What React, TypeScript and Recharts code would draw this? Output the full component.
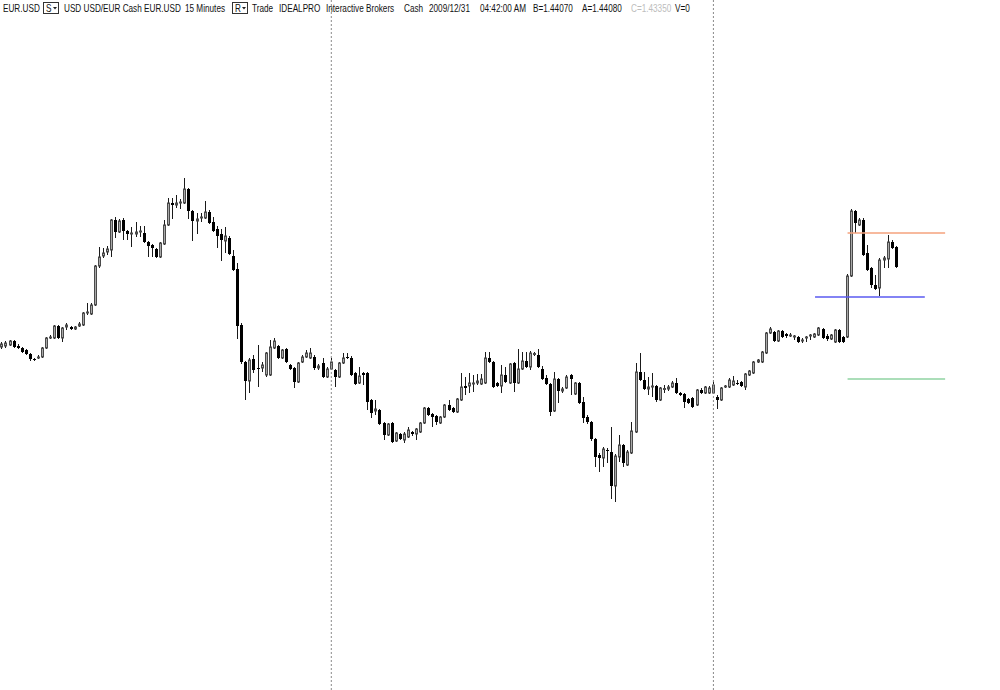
import React from "react";
import { Bar, ComposedChart, ReferenceLine, XAxis, YAxis } from "recharts";

// EUR.USD 15 minute bars
const openPrices = [
  1.4327, 1.4328, 1.4329, 1.4333, 1.4328, 1.4326, 1.4324, 1.432, 1.4315, 1.4316,
  1.4317, 1.4326, 1.4336, 1.4336, 1.4348, 1.4336, 1.4347, 1.4347, 1.4345, 1.4348,
  1.4349, 1.4361, 1.436, 1.4369, 1.4408, 1.4418, 1.4422, 1.4424, 1.4454, 1.4442,
  1.4454, 1.4443, 1.444, 1.444, 1.4442, 1.4441, 1.4432, 1.4429, 1.4425, 1.4417,
  1.443, 1.4449, 1.4471, 1.4469, 1.4471, 1.4471, 1.4485, 1.4463, 1.4453, 1.4456,
  1.4456, 1.4462, 1.4452, 1.4445, 1.444, 1.4433, 1.4436, 1.4418, 1.4405, 1.4349,
  1.4312, 1.4293, 1.4315, 1.4306, 1.4306, 1.4299, 1.4299, 1.4326, 1.4328, 1.4316,
  1.4325, 1.4309, 1.4306, 1.4292, 1.4312, 1.4317, 1.4316, 1.4317, 1.4306, 1.4311,
  1.4297, 1.4305, 1.4304, 1.4297, 1.4311, 1.4317, 1.4316, 1.4301, 1.4291, 1.4301,
  1.4301, 1.4274, 1.4263, 1.4264, 1.4251, 1.4239, 1.4251, 1.4233, 1.424, 1.4234,
  1.4237, 1.4242, 1.424, 1.4242, 1.4251, 1.4266, 1.426, 1.4258, 1.4251, 1.4257,
  1.4269, 1.4266, 1.4262, 1.4274, 1.4288, 1.4288, 1.42905, 1.4291, 1.429, 1.4291,
  1.4316, 1.4312, 1.4291, 1.4288, 1.4299, 1.4291, 1.4311, 1.4291, 1.4305, 1.4313,
  1.4307, 1.432, 1.4319, 1.4305, 1.4296, 1.429, 1.4263, 1.4295, 1.4283, 1.4286,
  1.4299, 1.428, 1.4291, 1.4272, 1.4257, 1.4252, 1.4235, 1.4219, 1.4216, 1.4224,
  1.4222, 1.4188, 1.4217, 1.4229, 1.4209, 1.4221, 1.4242, 1.4302, 1.4294, 1.4285,
  1.4287, 1.4288, 1.4274, 1.4285, 1.4285, 1.4287, 1.4291, 1.4281, 1.428, 1.4275,
  1.4276, 1.4269, 1.4284, 1.4281, 1.4281, 1.4281, 1.4277, 1.4274, 1.4287, 1.4287,
  1.4289, 1.4291, 1.4292, 1.4287, 1.4299, 1.4301, 1.4312, 1.4312, 1.4321, 1.4341,
  1.4342, 1.4333, 1.4343, 1.434, 1.4338, 1.4338, 1.4337, 1.4333, 1.4337, 1.4339,
  1.4337, 1.4339, 1.4345, 1.4338, 1.4335, 1.4332, 1.4344, 1.4337, 1.4337, 1.4398,
  1.4463, 1.4449, 1.4454, 1.4421, 1.4406, 1.4389, 1.4386, 1.4414, 1.4415, 1.4432,
  1.4427,
];

const highPrices = [
  1.4332, 1.4333, 1.4334, 1.4334, 1.433, 1.4327, 1.4325, 1.4321, 1.4316, 1.4319,
  1.4327, 1.4337, 1.4339, 1.4349, 1.4349, 1.4347, 1.4351, 1.4348, 1.4348, 1.4352,
  1.4362, 1.4371, 1.4371, 1.4409, 1.4427, 1.4426, 1.4428, 1.4455, 1.4457, 1.4455,
  1.4456, 1.4444, 1.4447, 1.4452, 1.4448, 1.4448, 1.4433, 1.443, 1.4426, 1.4432,
  1.4454, 1.4476, 1.4476, 1.4479, 1.4475, 1.4496, 1.4486, 1.4464, 1.4461, 1.4461,
  1.4473, 1.4464, 1.4457, 1.4448, 1.4445, 1.4447, 1.4438, 1.4424, 1.4411, 1.4351,
  1.4313, 1.4316, 1.4319, 1.4329, 1.4312, 1.4322, 1.4334, 1.4336, 1.4329, 1.4325,
  1.4326, 1.431, 1.4307, 1.4312, 1.4319, 1.4324, 1.4326, 1.4319, 1.431, 1.4316,
  1.4307, 1.4316, 1.4305, 1.4312, 1.4321, 1.4321, 1.4318, 1.4302, 1.4307, 1.4302,
  1.4302, 1.4275, 1.4274, 1.4265, 1.4252, 1.4251, 1.4252, 1.4242, 1.4241, 1.4242,
  1.4247, 1.4243, 1.4246, 1.4252, 1.4267, 1.4267, 1.4261, 1.4259, 1.4258, 1.427,
  1.4274, 1.4267, 1.4276, 1.4301, 1.4297, 1.4301, 1.4299, 1.43, 1.43, 1.4322,
  1.4322, 1.4313, 1.4292, 1.4309, 1.4307, 1.4311, 1.4312, 1.4325, 1.4322, 1.4322,
  1.4323, 1.4322, 1.4325, 1.4308, 1.4299, 1.4291, 1.4302, 1.4296, 1.4287, 1.4299,
  1.43, 1.4292, 1.4292, 1.4277, 1.4259, 1.4253, 1.4236, 1.4221, 1.4227, 1.4226,
  1.4247, 1.422, 1.4239, 1.423, 1.4224, 1.4252, 1.4311, 1.4321, 1.4302, 1.4297,
  1.4301, 1.4289, 1.4287, 1.4289, 1.4289, 1.4293, 1.4296, 1.4282, 1.4281, 1.4276,
  1.4277, 1.4285, 1.4286, 1.4288, 1.4288, 1.4294, 1.4279, 1.4287, 1.4289, 1.4296,
  1.4298, 1.4294, 1.4293, 1.4301, 1.4304, 1.4313, 1.4315, 1.4323, 1.4342, 1.4347,
  1.4343, 1.4344, 1.4344, 1.4341, 1.4341, 1.4339, 1.4338, 1.4336, 1.4338, 1.434,
  1.4341, 1.4347, 1.4346, 1.434, 1.434, 1.4345, 1.4345, 1.4338, 1.44, 1.4465,
  1.4464, 1.4456, 1.4456, 1.4429, 1.4407, 1.4399, 1.4416, 1.4418, 1.4439, 1.4434,
  1.4428,
];

const lowPrices = [
  1.4325, 1.4326, 1.4328, 1.4326, 1.4325, 1.4321, 1.4319, 1.4313, 1.4313, 1.4315,
  1.4316, 1.4325, 1.4335, 1.4335, 1.4335, 1.4332, 1.4344, 1.4344, 1.4344, 1.4347,
  1.4348, 1.4359, 1.4359, 1.4368, 1.4406, 1.4416, 1.4419, 1.4417, 1.4436, 1.4441,
  1.4434, 1.4434, 1.4427, 1.4437, 1.4437, 1.4431, 1.4417, 1.4417, 1.4416, 1.4416,
  1.4429, 1.4448, 1.4455, 1.4466, 1.4465, 1.447, 1.4455, 1.4433, 1.444, 1.4452,
  1.4455, 1.445, 1.4442, 1.4426, 1.4413, 1.4421, 1.4419, 1.4403, 1.4335, 1.431,
  1.4274, 1.4281, 1.4301, 1.4287, 1.4302, 1.4297, 1.4298, 1.4325, 1.4315, 1.4315,
  1.4311, 1.4304, 1.4286, 1.4291, 1.4311, 1.4316, 1.4315, 1.4304, 1.4304, 1.4296,
  1.4296, 1.4304, 1.4287, 1.4296, 1.431, 1.4315, 1.4298, 1.4289, 1.429, 1.4289,
  1.4264, 1.4256, 1.4259, 1.4249, 1.4234, 1.4238, 1.4231, 1.4232, 1.4234, 1.4231,
  1.4236, 1.4238, 1.4234, 1.4241, 1.425, 1.4258, 1.4247, 1.4249, 1.425, 1.4256,
  1.4263, 1.4261, 1.4261, 1.4273, 1.4279, 1.4281, 1.4282, 1.4289, 1.4289, 1.429,
  1.4311, 1.4286, 1.4287, 1.4281, 1.4291, 1.429, 1.4282, 1.429, 1.4304, 1.4306,
  1.4304, 1.4318, 1.4306, 1.4294, 1.4289, 1.4258, 1.4262, 1.4271, 1.4281, 1.4285,
  1.4279, 1.4279, 1.427, 1.4251, 1.425, 1.4233, 1.4207, 1.4202, 1.4207, 1.4211,
  1.4175, 1.4172, 1.4212, 1.4207, 1.4208, 1.422, 1.4241, 1.4293, 1.4284, 1.4279,
  1.4277, 1.4272, 1.4273, 1.4281, 1.4283, 1.4286, 1.428, 1.4278, 1.4266, 1.427,
  1.4266, 1.4268, 1.428, 1.428, 1.428, 1.428, 1.4265, 1.4273, 1.4286, 1.4286,
  1.4288, 1.4289, 1.4287, 1.4284, 1.4298, 1.43, 1.4311, 1.4311, 1.432, 1.434,
  1.4332, 1.4332, 1.4336, 1.4336, 1.4337, 1.4334, 1.4331, 1.4331, 1.4332, 1.4334,
  1.4336, 1.4338, 1.4335, 1.4333, 1.4334, 1.4331, 1.4331, 1.4331, 1.4336, 1.4397,
  1.4441, 1.4448, 1.4418, 1.4403, 1.4386, 1.4384, 1.4378, 1.4406, 1.4406, 1.4425,
  1.4406,
];

const closePrices = [
  1.433, 1.4331, 1.4333, 1.4327, 1.4326, 1.4322, 1.432, 1.4315, 1.43145, 1.4317,
  1.4326, 1.4336, 1.4337, 1.4348, 1.4336, 1.4346, 1.4349, 1.4345, 1.4347, 1.435,
  1.4361, 1.4362, 1.4369, 1.4408, 1.4417, 1.4421, 1.4425, 1.4454, 1.4442, 1.4453,
  1.4443, 1.444, 1.4441, 1.4442, 1.4443, 1.4432, 1.4428, 1.4426, 1.4417, 1.4431,
  1.4449, 1.4471, 1.4469, 1.4471, 1.4472, 1.4485, 1.4463, 1.4453, 1.4455, 1.4457,
  1.4462, 1.4451, 1.4443, 1.4438, 1.4434, 1.4438, 1.442, 1.4404, 1.4348, 1.4312,
  1.4293, 1.4314, 1.4304, 1.43055, 1.4309, 1.4321, 1.4327, 1.4333, 1.4316, 1.4324,
  1.4312, 1.4305, 1.4292, 1.4311, 1.4317, 1.4321, 1.4321, 1.4306, 1.4308, 1.4297,
  1.4305, 1.4312, 1.4297, 1.4311, 1.4316, 1.4316, 1.4299, 1.429, 1.4298, 1.4299,
  1.4272, 1.4261, 1.4265, 1.425, 1.4239, 1.425, 1.4232, 1.4241, 1.4235, 1.424,
  1.4244, 1.424, 1.4245, 1.4251, 1.4266, 1.4259, 1.4257, 1.4252, 1.4257, 1.4269,
  1.4264, 1.4262, 1.4275, 1.4287, 1.4286, 1.4291, 1.4291, 1.4293, 1.4295, 1.4316,
  1.4312, 1.4287, 1.4288, 1.4299, 1.4292, 1.431, 1.4291, 1.4305, 1.4313, 1.4307,
  1.4321, 1.43205, 1.4307, 1.4295, 1.429, 1.4262, 1.4295, 1.4283, 1.4285, 1.4297,
  1.4295, 1.4291, 1.4271, 1.4256, 1.4252, 1.4235, 1.4217, 1.4216, 1.4225, 1.42235,
  1.4188, 1.4218, 1.4229, 1.4211, 1.4222, 1.4243, 1.4302, 1.4294, 1.4285, 1.4287,
  1.4288, 1.4274, 1.4286, 1.42855, 1.4287, 1.4291, 1.4281, 1.4279, 1.4272, 1.4271,
  1.4267, 1.4284, 1.4281, 1.4287, 1.4286, 1.4289, 1.4274, 1.4286, 1.4288, 1.4294,
  1.4293, 1.42905, 1.4288, 1.43, 1.4303, 1.4312, 1.4314, 1.4322, 1.4341, 1.4345,
  1.4333, 1.4343, 1.4337, 1.4338, 1.4339, 1.4338, 1.4332, 1.4334, 1.4337, 1.4339,
  1.434, 1.4346, 1.4336, 1.4335, 1.4339, 1.4344, 1.4332, 1.4332, 1.4398, 1.4463,
  1.4451, 1.4454, 1.4419, 1.4404, 1.4389, 1.4385, 1.4414, 1.4416, 1.4432, 1.4426,
  1.4407,
];

// bar slots shown across the window (the right side stays empty)
const SLOT_COUNT = 246;
const PRICE_RANGE: [number, number] = [1.3984, 1.4674];
const sessionBreaks = [81, 175];

const upperLevel = 1.4441;
const middleLevel = 1.4377;
const lowerLevel = 1.4295;

type Row = { i: number; o?: number; h?: number; l?: number; c?: number; range?: [number, number] };

const rows: Row[] = [];
for (let k = 0; k < SLOT_COUNT; k++) {
  if (k < openPrices.length) {
    rows.push({
      i: k,
      o: openPrices[k],
      h: highPrices[k],
      l: lowPrices[k],
      c: closePrices[k],
      range: [lowPrices[k], highPrices[k]],
    });
  } else {
    rows.push({ i: k });
  }
}

function Candle(props: any) {
  const { x, y, width, height, payload } = props;
  if (!payload || payload.o == null) return null;
  const { o, h, l, c } = payload;
  const top = Math.min(y, y + height);
  const bottom = Math.max(y, y + height);
  const toY = (p: number) => (h === l ? top : top + ((h - p) / (h - l)) * (bottom - top));
  const cx = Math.floor(x + width / 2) + 0.5;
  const up = c >= o;
  const bodyTop = toY(Math.max(o, c));
  const bodyBottom = toY(Math.min(o, c));
  const bodyH = Math.max(1, bodyBottom - bodyTop);

  return (
    <g>
      <line x1={cx} x2={cx} y1={top} y2={bottom} stroke="#1a1a1a" strokeWidth={1} />
      {up ? (
        <rect x={cx - 1} y={bodyTop} width={2} height={bodyH} fill="#a8a8a8" stroke="#4a4a4a" strokeWidth={1} />
      ) : (
        <rect x={cx - 1.5} y={bodyTop} width={3} height={bodyH} fill="#000" />
      )}
    </g>
  );
}

// header text is a narrow face: Liberation Sans squeezed horizontally
const SQUEEZE = 0.82;

function HeaderText({ x, text, color }: { x: number; text: string; color?: string }) {
  return (
    <text transform={`translate(${x} 12) scale(${SQUEEZE} 1)`} x={0} y={0} fontSize={10} fill={color ?? "#111"}>
      {text}
    </text>
  );
}

function DropBox({ x, label }: { x: number; label: string }) {
  return (
    <g>
      <rect x={x + 0.5} y={2.5} width={15} height={11} fill="#fff" stroke="#333" strokeWidth={1} />
      <HeaderText x={x + 3} text={label} />
      <path d={`M ${x + 10} 7 L ${x + 14} 7 L ${x + 12} 9.5 Z`} fill="#222" />
    </g>
  );
}

const headerParts: { x: number; text: string; color?: string }[] = [
  { x: 3, text: "EUR.USD" },
  { x: 64, text: "USD USD/EUR Cash EUR.USD" },
  { x: 185, text: "15 Minutes" },
  { x: 252, text: "Trade" },
  { x: 279, text: "IDEALPRO" },
  { x: 326, text: "Interactive Brokers" },
  { x: 404, text: "Cash" },
  { x: 429, text: "2009/12/31" },
  { x: 480, text: "04:42:00 AM" },
  { x: 533, text: "B=1.44070" },
  { x: 582, text: "A=1.44080" },
  { x: 631, text: "C=1.43350", color: "#bdbdbd" },
  { x: 675, text: "V=0" },
];

export default function App() {
  return (
    <div style={{ position: "absolute", left: 0, top: 0, width: 1000, height: 690, background: "#fff" }}>
      <ComposedChart width={1000} height={690} data={rows} margin={{ top: 0, right: 0, bottom: 0, left: 0 }}>
        <XAxis dataKey="i" type="category" hide />
        <YAxis type="number" domain={PRICE_RANGE} hide allowDataOverflow />
        {sessionBreaks.map((b) => (
          <ReferenceLine key={b} x={b} stroke="#8a8a8a" strokeDasharray="2 2" strokeWidth={1} />
        ))}
        <Bar dataKey="range" shape={<Candle />} isAnimationActive={false} />
        <ReferenceLine
          segment={[{ x: 208, y: upperLevel }, { x: 232, y: upperLevel }]}
          stroke="#f4a27c"
          strokeWidth={1.6}
        />
        <ReferenceLine
          segment={[{ x: 200, y: middleLevel }, { x: 227, y: middleLevel }]}
          stroke="#5a5af0"
          strokeWidth={1.6}
        />
        <ReferenceLine
          segment={[{ x: 208, y: lowerLevel }, { x: 232, y: lowerLevel }]}
          stroke="#8fd3a2"
          strokeWidth={1.6}
        />
      </ComposedChart>
      <svg
        width={1000}
        height={18}
        style={{ position: "absolute", left: 0, top: 0, fontFamily: "'Liberation Sans', Arial, sans-serif" }}
      >
        {headerParts.map((p) => (
          <HeaderText key={p.text} x={p.x} text={p.text} color={p.color} />
        ))}
        <DropBox x={43} label="S" />
        <DropBox x={232} label="R" />
      </svg>
    </div>
  );
}
